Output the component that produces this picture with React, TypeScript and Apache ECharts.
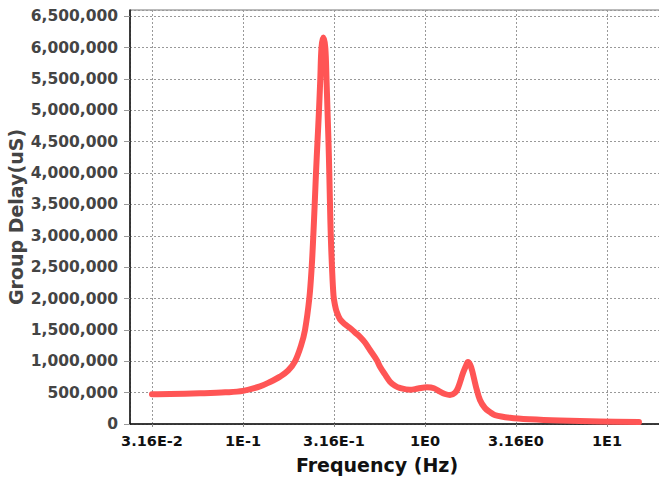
import React, { useEffect, useRef } from "react";
import * as echarts from "echarts";

const titleText = "Group Delay";
const xAxisName = "Frequency (Hz)";
const yAxisName = "Group Delay(uS)";

const freqHz = [
  0.03162, 0.03971, 0.05801, 0.08, 0.1, 0.12402, 0.14073, 0.15969, 0.17677, 0.19307,
  0.20836, 0.21918, 0.23139, 0.23852, 0.2434, 0.24774, 0.25182, 0.25663, 0.26158, 0.2659,
  0.26997, 0.2762, 0.28328, 0.28762, 0.29128, 0.29499, 0.298, 0.30061, 0.30367, 0.30832,
  0.31426, 0.32, 0.32719, 0.34119, 0.3635, 0.38722, 0.41247, 0.4394, 0.46815, 0.49868, 0.54287,
  0.566, 0.60297, 0.64225, 0.68408, 0.72895, 0.82716, 0.91522, 1.02565, 1.12073, 1.20893,
  1.28823, 1.37185, 1.46182, 1.51836, 1.61741, 1.67991, 1.72295, 1.76717, 1.81212, 1.90624,
  2.00529, 2.13606, 2.2758, 2.42437, 2.93089, 3.77572, 5.51883, 9.15071, 14.99,
];

const delayUs = [
  475000, 478000, 490000, 505000, 528000, 600000, 670000, 755000, 850000, 1000000,
  1250000, 1500000, 2000000, 2500000, 3000000, 3500000, 4000000, 4500000, 5000000, 5500000,
  6000000, 6160000, 6000000, 5500000, 5000000, 4500000, 4000000, 3500000, 3000000, 2500000,
  2050000, 1900000, 1790000, 1670000, 1590000, 1530000, 1460000, 1390000, 1300000, 1180000, 1020000,
  913000, 790000, 675000, 610000, 574000, 545000, 565000, 585000, 570000, 515000,
  478000, 462000, 500000, 574000, 813000, 930000, 989000, 950000, 860000, 595000,
  383000, 255000, 190000, 143000, 100000, 75000, 55000, 40000, 30000,
];

const xMin = 0.02394;
const xMax = 19.81;
const yMin = 0;
const yMax = 6600000;
const yInterval = 500000;

function formatFreq(v: number): string {
  const e2 = Math.round(2 * Math.log10(v));
  if (e2 % 2 === 0) return "1E" + e2 / 2;
  return "3.16E" + (e2 - 1) / 2;
}

export default function App() {
  const ref = useRef<HTMLDivElement>(null);
  useEffect(() => {
    if (!ref.current) return;
    const chart = echarts.init(ref.current, undefined, { renderer: "svg" });
    const font = "DejaVu Sans";
    chart.setOption({
      animation: false,
      backgroundColor: "#ffffff",
      grid: {
        left: 130,
        top: 10,
        width: 531,
        height: 414,
        show: true,
        borderColor: "#777",
        borderWidth: 1,
        containLabel: false,
        outerBoundsMode: "none",
      },
      graphic: [
        {
          type: "text",
          left: 179,
          top: -24,
          style: {
            text: titleText,
            fontFamily: font,
            fontWeight: "bold",
            fontSize: 22,
            fill: "#222",
          },
        },
      ],
      xAxis: {
        type: "log",
        logBase: Math.sqrt(10),
        min: xMin,
        max: xMax,
        name: xAxisName,
        nameLocation: "middle",
        nameGap: 31,
        nameMoveOverlap: false,
        nameTextStyle: {
          fontFamily: font,
          fontWeight: "bold",
          fontSize: 19,
          color: "#111",
          padding: [0, 37, 0, 0],
        },
        axisLine: { show: true, lineStyle: { color: "#111", width: 1.5 } },
        axisTick: { show: true, length: 3, lineStyle: { color: "#888" } },
        axisLabel: {
          fontFamily: font,
          fontWeight: "bold",
          fontSize: 14.5,
          color: "#111",
          margin: 9,
          showMinLabel: false,
          showMaxLabel: false,
          formatter: (v: number) => formatFreq(v),
        },
        splitLine: {
          show: true,
          lineStyle: { color: "#999", type: [2, 2], width: 1 },
        },
        minorTick: { show: false },
      },
      yAxis: {
        type: "value",
        min: yMin,
        max: yMax,
        interval: yInterval,
        name: yAxisName,
        nameLocation: "middle",
        nameGap: 105,
        nameMoveOverlap: false,
        nameTextStyle: {
          fontFamily: font,
          fontWeight: "bold",
          fontSize: 19,
          color: "#444",
        },
        axisLine: { show: true, lineStyle: { color: "#111", width: 1.5 } },
        axisTick: { show: true, length: 6, lineStyle: { color: "#999" } },
        axisLabel: {
          fontFamily: font,
          fontWeight: "bold",
          fontSize: 15.5,
          color: "#444",
          margin: 12,
          showMaxLabel: false,
          formatter: (v: number) => v.toLocaleString("en-US"),
        },
        splitLine: {
          show: true,
          lineStyle: { color: "#999", type: [2, 2], width: 1 },
        },
      },
      series: [
        {
          type: "line",
          data: freqHz.map((f, i) => [f, delayUs[i]]),
          showSymbol: false,
          smooth: 0.35,
          lineStyle: { color: "#ff5555", width: 6, cap: "round", join: "round" },
          itemStyle: { color: "#ff5555" },
          clip: true,
        },
      ],
    });
    return () => chart.dispose();
  }, []);
  return (
    <div
      ref={ref}
      style={{ position: "fixed", left: 0, top: 0, width: 659, height: 477 }}
    />
  );
}
